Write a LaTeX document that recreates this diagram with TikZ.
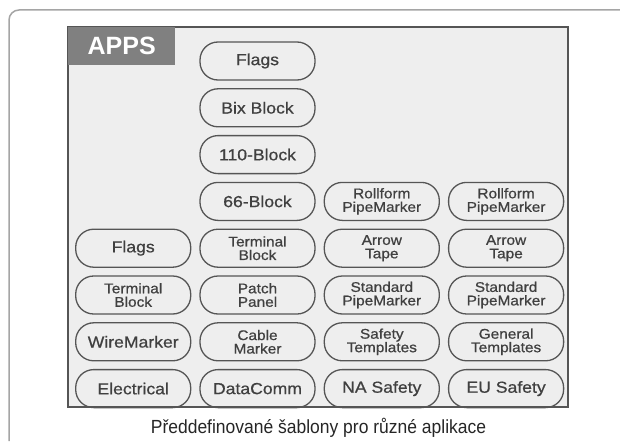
\documentclass[tikz,border=0pt]{standalone}
\usepackage{fontspec}
\setmainfont{Liberation Sans}
\newfontfamily\pillfont[FakeStretch=1.1, FakeBold=0.7]{Liberation Sans}
\newfontfamily\capfont[FakeStretch=0.92]{Liberation Sans}
\usetikzlibrary{positioning}
\definecolor{PanelGray}{RGB}{238,238,238}
\definecolor{LineGray}{RGB}{85,85,85}
\definecolor{TextGray}{RGB}{64,64,64}
\definecolor{TabGray}{RGB}{128,128,128}
\definecolor{FrameGray}{RGB}{165,165,165}
\tikzset{
    pill/.style={draw=LineGray, line width=1.3pt, rounded corners=18pt, minimum width=115pt, minimum height=38pt, inner sep=0pt, align=center, text=TextGray, font=\pillfont\fontsize{16}{16}\selectfont},
    pilltwo/.style={pill, font=\pillfont\fontsize{14}{13.5}\selectfont},
    tab/.style={fill=TabGray, text=white, font=\bfseries\fontsize{25}{25}\selectfont, minimum width=107pt, minimum height=38pt, inner sep=0pt}
}

\begin{document}
\begin{tikzpicture}[x=1pt, y=-1pt, node distance=7.5pt and 8pt]
	\useasboundingbox (0,0) rectangle (620,441);
	% frame and panel
	\draw[FrameGray, line width=1.5pt, rounded corners=10pt] (9,441) -- (9,10) -- (620,10);
	\draw[LineGray, fill=PanelGray, line width=1.2pt] (68,27) rectangle (568,407);
	\node[tab, anchor=north west] (apps) at (68,27) {APPS};
	
	\node[pill] (fl2) at (257.5,61) {Flags};
	\node[pill] (bix) [below=of fl2] {Bix Block};
	\node[pill] (b110) [below=of bix] {110-Block};
	\node[pill] (b66) [below=of b110] {66-Block};
	\node[pilltwo] (rp3) [right=of b66] {Rollform\\PipeMarker};
	\node[pilltwo] (rp4) [right=of rp3] {Rollform\\PipeMarker};
	
	\node[pilltwo] (tb2) [below=of b66] {Terminal\\Block};
	\node[pill] (fl1) [left=of tb2] {Flags};
	\node[pilltwo] (at3) [below=of rp3] {Arrow\\Tape};
	\node[pilltwo] (at4) [below=of rp4] {Arrow\\Tape};
	
	\node[pilltwo] (pp2) [below=of tb2] {Patch\\Panel};
	\node[pilltwo] (tb1) [left=of pp2] {Terminal\\Block};
	\node[pilltwo] (sp3) [below=of at3] {Standard\\PipeMarker};
	\node[pilltwo] (sp4) [below=of at4] {Standard\\PipeMarker};
	
	\node[pilltwo] (cm2) [below=of pp2] {Cable\\Marker};
	\node[pill] (wm1) [left=of cm2] {WireMarker};
	\node[pilltwo] (st3) [below=of sp3] {Safety\\Templates};
	\node[pilltwo] (gt4) [below=of sp4] {General\\Templates};
	
	\node[pill] (dc2) [below=of cm2] {DataComm};
	\node[pill] (el1) [left=of dc2] {Electrical};
	\node[pill] (na3) [below=of st3] {NA Safety};
	\node[pill] (eu4) [below=of gt4] {EU Safety};
	
	\node[anchor=base, font=\capfont\fontsize{19}{19}\selectfont, text=black!85] (cap) at (318.5,433) {Předdefinované šablony pro různé aplikace};
\end{tikzpicture}
\end{document}
